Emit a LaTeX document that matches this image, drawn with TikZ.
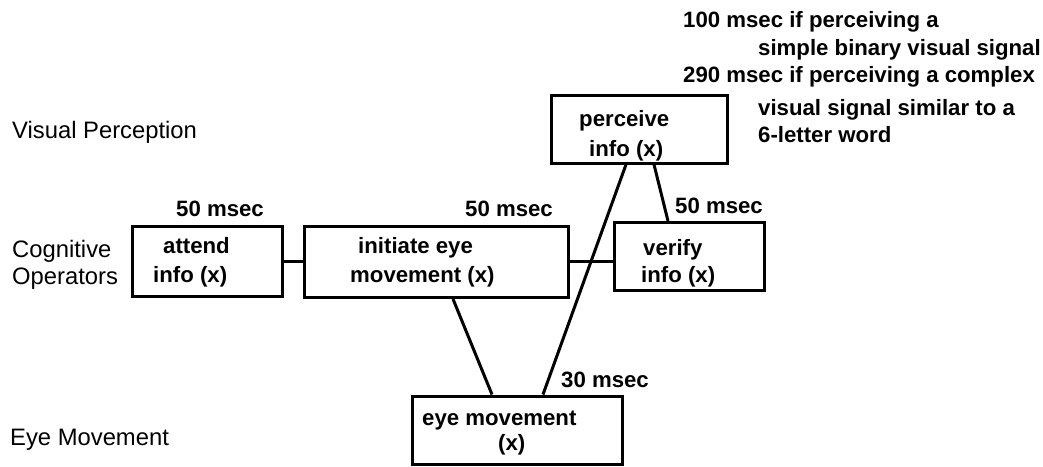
\documentclass[tikz,border=0pt]{standalone}
\usepackage{fontspec}
\setmainfont{Liberation Sans}
\begin{document}
\begin{tikzpicture}[x=1pt,y=-1pt,
  box/.style={draw,line width=3pt,inner sep=0pt},
  lab/.style={anchor=base west,inner sep=0pt,font=\fontsize{22.2}{26}\selectfont\bfseries},
  row/.style={anchor=base west,inner sep=0pt,font=\fontsize{23.8}{27}\selectfont},
  link/.style={line width=3pt}]
\useasboundingbox (0,0) rectangle (1043,466);
% boxes
\node[box,minimum width=176pt,minimum height=68pt] (perc) at (639,129) {};
\node[box,minimum width=150pt,minimum height=70pt] (att) at (207,261.5) {};
\node[box,minimum width=264pt,minimum height=71pt] (init) at (436.5,262) {};
\node[box,minimum width=150pt,minimum height=68pt] (ver) at (689,256.5) {};
\node[box,minimum width=210pt,minimum height=68pt] (eye) at (517,430) {};
% row labels
\node[row] (rv) at (12,138) {Visual Perception};
\node[row] (rc1) at (12,257) {Cognitive};
\node[row] (rc2) at (12,284) {Operators};
\node[row] (re) at (10,445) {Eye Movement};
% box texts
\node[lab] (t1) at (579,126) {perceive};
\node[lab] (t2) at (589,156) {info (x)};
\node[lab] (t3) at (163,253) {attend};
\node[lab] (t4) at (153,282) {info (x)};
\node[lab] (t5) at (358,253) {initiate eye};
\node[lab] (t6) at (350,282) {movement (x)};
\node[lab] (t7) at (643,255) {verify};
\node[lab] (t8) at (641,282) {info (x)};
\node[lab] (t9) at (422,425) {eye movement};
\node[lab] (t10) at (498,450) {(x)};
% durations
\node[lab] (d1) at (176,216) {50 msec};
\node[lab] (d2) at (465,216) {50 msec};
\node[lab] (d3) at (675,213) {50 msec};
\node[lab] (d4) at (561,387) {30 msec};
\node[lab] (p1) at (683,27) {100 msec if perceiving a};
\node[lab] (p2) at (758,55) {simple binary visual signal};
\node[lab] (p3) at (683,82) {290 msec if perceiving a complex};
\node[lab] (p4) at (758,115) {visual signal similar to a};
\node[lab] (p5) at (758,142) {6-letter word};
% connectors
\draw[link] (att.east |- 0,261) -- (init.west |- 0,261);
\draw[link] (init.east |- 0,261) -- (ver.west |- 0,261);
\draw[link] (init.south -| 453,0) -- (eye.north -| 492,0);
\draw[link] (perc.south -| 626,0) -- (eye.north -| 543,0);
\draw[link] (perc.south -| 654,0) -- (ver.north -| 668,0);
\end{tikzpicture}
\end{document}
